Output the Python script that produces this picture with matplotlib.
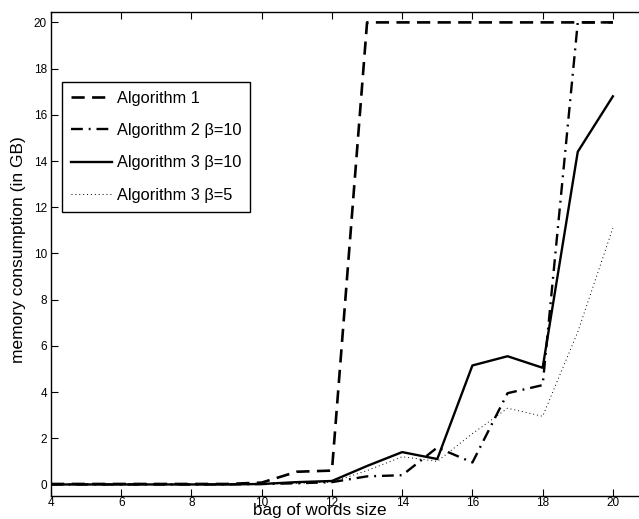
import matplotlib
matplotlib.use("Agg")
import matplotlib.pyplot as plt

plt.rcParams['font.family'] = ['Liberation Sans', 'DejaVu Sans']

bag_size = [4, 5, 6, 7, 8, 9, 10, 11, 12, 13, 14, 15, 16, 17, 18, 19, 20]
alg1 = [0.02, 0.02, 0.02, 0.02, 0.02, 0.02, 0.08, 0.55, 0.6, 20, 20, 20, 20, 20, 20, 20, 20]
alg2_b10 = [0.0, 0.0, 0.0, 0.0, 0.0, 0.0, 0.02, 0.05, 0.1, 0.35, 0.4, 1.6, 0.95, 3.95, 4.3, 20, 20]
alg3_b10 = [0.0, 0.0, 0.0, 0.0, 0.0, 0.0, 0.02, 0.1, 0.15, 0.8, 1.4, 1.1, 5.15, 5.55, 5.05, 14.4, 16.8]
alg3_b5 = [0.0, 0.0, 0.0, 0.0, 0.0, 0.0, 0.02, 0.05, 0.1, 0.6, 1.2, 1.0, 2.2, 3.3, 2.95, 6.6, 11.1]

labels = ["Algorithm 1", "Algorithm 2 \u03b2=10", "Algorithm 3 \u03b2=10", "Algorithm 3 \u03b2=5"]
xticks = [4, 6, 8, 10, 12, 14, 16, 18, 20]
yticks = [0, 2, 4, 6, 8, 10, 12, 14, 16, 18, 20]

W, H = 639, 519
fig = plt.figure(figsize=(W / 100, H / 100), dpi=100)
left, right, top, bottom = 51, 648, 12, 496
ax = fig.add_axes([left / W, 1 - bottom / H, (right - left) / W, (bottom - top) / H])

ax.plot(bag_size, alg1, color='black', lw=1.9, linestyle=(0, (5, 2.8)), label=labels[0])
ax.plot(bag_size, alg2_b10, color='black', lw=1.7, linestyle=(0, (5, 2.5, 0.8, 2.5)), label=labels[1])
ax.plot(bag_size, alg3_b10, color='black', lw=1.7, linestyle='-', label=labels[2])
ax.plot(bag_size, alg3_b5, color='black', lw=0.7, linestyle=(0, (1, 3)), label=labels[3])

ax.set_xlim(4, 21)
ax.set_ylim(-0.5, 20.45)
ax.set_xticks(xticks)
ax.set_yticks(yticks)
ax.tick_params(direction='in', top=True, right=True, labelsize=8.5, length=5, width=0.8, pad=3)
ax.tick_params(axis='x', pad=1)
for s in ax.spines.values():
    s.set_linewidth(1.0)

ax.set_xlabel("bag of words size", fontsize=12.3)
ax.xaxis.label.set_va('baseline')
ax.xaxis.set_label_coords((320 - left) / (right - left), -(515 - bottom) / (bottom - top))
ax.set_ylabel("memory consumption (in GB)", fontsize=12.5)
ax.yaxis.label.set_va('center')
ax.yaxis.set_label_coords(-(left - 19) / (right - left), (bottom - 250) / (bottom - top))

leg = ax.legend(loc='upper left', bbox_to_anchor=(62 / W, 1 - 82 / H), bbox_transform=fig.transFigure,
                fontsize=11.8, frameon=True, fancybox=False, edgecolor='black', framealpha=1,
                handlelength=2.5, handletextpad=0.3, labelspacing=1.05, borderpad=0.55, borderaxespad=0)
leg.get_frame().set_linewidth(1.0)

fig.savefig("out.png", dpi=100)
